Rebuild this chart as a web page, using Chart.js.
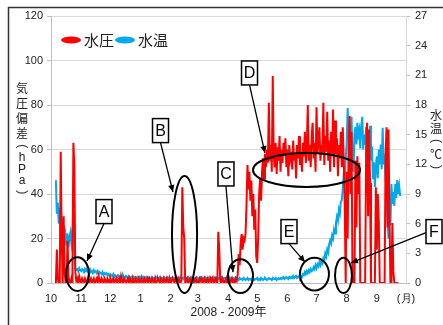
<!DOCTYPE html>
<html><head><meta charset="utf-8">
<script src="https://cdn.jsdelivr.net/npm/chart.js@4/dist/chart.umd.min.js"></script>
<style>html,body{margin:0;padding:0;background:#fff;overflow:hidden}</style>
</head><body>
<canvas id="c" width="443" height="325" style="display:block;width:443px;height:325px"></canvas>
<script>
// ---- x axis: months (day offsets from 1 Oct 2008) ----
const monthLabels = ['10','11','12','1','2','3','4','5','6','7','8','9','(月)'];
const monthStartDay = [0,31,61,92,123,151,182,212,243,273,304,335,365];

// ---- 水圧 (hPa), daily values per month ----
const pressureOct = [null,null,null,null,null,0,15,2,0,0,59,20,0,30,5,0,0,19,3,0,0,2,0,63,53,5,1,2,0,3,1];
const pressureNov = [0,2,1,0,2,1,0,2,0,1,2,0,1,2,0,1,2,0,3,1,0,2,1,0,2,1,0,2,1,0];
const pressureDec = [2,0,1,2,0,1,2,0,1,2,0,3,1,0,2,1,0,1,2,0,2,1,0,2,0,1,2,0,1,2,0];
const pressureJan = [1,2,0,1,2,0,1,2,0,2,1,0,2,1,0,2,0,1,2,1,0,2,1,0,2,1,0,2,1,0,2];
const pressureFeb = [0,1,2,1,0,2,1,0,2,1,0,1,43,25,20,0,1,2,0,1,2,0,1,2,0,1,2,0];
const pressureMar = [1,0,2,1,2,0,1,2,0,1,2,0,1,2,0,2,1,0,2,1,0,23,15,1,0,2,1,0,1,2,0];
const pressureApr = [1,2,0,1,2,0,1,0,2,1,4,13,8,18,22,15,20,19,22,35,53,42,50,37,46,30,40,24,33,12];
const pressureMay = [9,20,40,47,37,50,56,47,58,52,60,54,81,55,62,50,93,57,52,63,49,61,55,66,50,60,54,63,57,65,52];
const pressureJun = [60,48,62,56,59,51,64,55,58,47,62,56,66,53,59,50,63,57,68,54,61,80,55,62,52,66,72,56,63,50];
const pressureJul = [79,58,64,70,55,62,58,81,53,66,59,77,55,64,50,68,57,78,52,73,58,65,48,62,56,68,52,70,55,35,0];
const pressureAug = [50,20,62,75,40,68,0,0,0,55,25,57,40,54,0,0,0,0,0,0,60,72,30,69,45,0,0,0,0,0,43];
const pressureSep = [15,40,28,0,0,0,0,0,0,58,70,25,69,30,0,0,27,5,0,0,0,0,0];

// ---- 水温 (°C), daily values per month ----
const tempOct = [null,null,null,null,null,10.4,7.0,8.1,6.0,7.6,5.2,6.4,4.5,5.8,3.8,4.9,4.2,5.0,3.6,4.6,5.1,4.0,4.8,7.9,3.5,1.4,1.3,1.4,1.2,1.5,1.3];
const tempNov = [1.2,1.4,1.3,1.1,1.4,1.2,1.3,1.1,1.2,1.4,1.1,1.2,1.0,1.3,1.1,1.2,1.0,1.2,0.9,1.1,1.0,0.9,1.1,0.8,1.0,0.9,1.0,0.8,0.9,0.7];
const tempDec = [0.9,0.8,0.7,0.9,0.6,0.8,0.7,0.6,0.8,0.7,0.5,0.7,0.6,0.8,0.6,0.5,0.7,0.6,0.5,0.7,0.6,0.5,0.6,0.4,0.6,0.5,0.6,0.5,0.6,0.4,0.6];
const tempJan = [0.5,0.7,0.5,0.6,0.4,0.5,0.6,0.4,0.5,0.6,0.5,0.4,0.6,0.5,0.5,0.4,0.6,0.5,0.4,0.5,0.6,0.4,0.5,0.4,0.6,0.5,0.4,0.5,0.6,0.4,0.5];
const tempFeb = [0.5,0.4,0.6,0.5,0.4,0.5,0.6,0.4,0.5,0.4,0.6,0.5,0.5,0.4,0.6,0.5,0.4,0.5,0.6,0.4,0.5,0.5,0.6,0.4,0.5,0.4,0.5,0.6];
const tempMar = [0.5,0.4,0.5,0.6,0.4,0.5,0.5,0.6,0.4,0.5,0.5,0.4,0.6,0.5,0.4,0.5,0.6,0.4,0.5,0.5,0.6,0.4,0.5,0.4,0.5,0.6,0.4,0.5,0.5,0.4,0.6];
const tempApr = [0.5,0.4,0.5,0.3,0.5,0.4,0.5,0.3,0.4,0.5,0.4,0.3,0.5,0.4,0.4,0.3,0.5,0.4,0.3,0.4,0.5,0.3,0.4,0.4,0.3,0.5,0.4,0.3,0.4,0.4];
const tempMay = [0.5,0.3,0.4,0.3,0.5,0.4,0.3,0.4,0.5,0.4,0.3,0.4,0.5,0.4,0.4,0.3,0.5,0.4,0.4,0.5,0.3,0.4,0.5,0.4,0.5,0.4,0.5,0.6,0.4,0.5,0.6];
const tempJun = [0.5,0.4,0.6,0.5,0.6,0.5,0.7,0.5,0.6,0.7,0.5,0.6,0.7,0.5,0.7,0.6,0.9,0.8,1.1,0.9,1.2,1.0,1.3,1.1,1.4,1.2,1.3,1.6,1.4,1.8];
const tempJul = [1.5,1.9,1.7,2.1,1.8,2.2,2.0,2.5,2.3,3.0,2.7,3.4,3.1,3.9,4.3,4.0,4.8,4.5,5.4,5.0,6.1,6.7,6.3,7.4,7.0,8.2,8.4,9.5,11.0,10.5,12.7];
const tempAug = [14.0,17.7,14.5,16.0,15.2,16.8,12.0,11.2,15.0,15.8,14.0,16.2,15.0,15.5,13.6,15.8,16.8,13.5,15.0,14.0,15.8,12.5,15.4,13.0,15.9,12.4,13.8,10.5,12.2,9.7,11.8];
const tempSep = [12.8,10.6,13.5,12.0,14.0,11.5,15.7,12.0,13.0,10.5,9.8,6.5,4.5,8.5,5.8,10.0,8.0,9.2,7.8,10.0,8.6,10.4,9.0,9.8,8.8];

const seriesNames = ['水圧','水温'];
const seriesColors = ['#ff0000','#00a8ec'];

// ---- callouts (positions in data units: day, hPa) ----
const callouts = [
  {t:'A', e:[27.2,4.0,11.8,7.6],  b:[54.5,32.1],  tip:[37.0,9.9],   side:'bottom'},
  {t:'B', e:[137.3,21.8,12.9,26.3], b:[112.6,68.5], tip:[125.4,40.9], side:'bottom'},
  {t:'C', e:[194.8,3.1,12.9,7.6], b:[179.9,49.0], tip:[187.1,4.9],  side:'bottom'},
  {t:'D', e:[262.7,50.8,55.0,7.6], b:[204.1,94.4], tip:[220.0,58.4], side:'bottom'},
  {t:'E', e:[270.9,4.0,14.9,7.4], b:[244.7,23.1], tip:[261.2,9.4],  side:'bottom'},
  {t:'F', e:[300.7,3.4,8.7,7.9],  b:[393.8,23.1], tip:[308.4,9.0],  side:'left'}
];

function toPoints(months){
  const pts=[];
  months.forEach((arr,m)=>arr.forEach((v,i)=>pts.push({x:monthStartDay[m]+i,y:v})));
  return pts;
}
const pressurePts = toPoints([pressureOct,pressureNov,pressureDec,pressureJan,pressureFeb,pressureMar,pressureApr,pressureMay,pressureJun,pressureJul,pressureAug,pressureSep]);
const tempPts = toPoints([tempOct,tempNov,tempDec,tempJan,tempFeb,tempMar,tempApr,tempMay,tempJun,tempJul,tempAug,tempSep]);

const NARROW = '"Liberation Sans Narrow","Arial Narrow","Liberation Sans",Arial,sans-serif';
const CJK = '"Noto Sans CJK JP","Noto Sans CJK SC",sans-serif';
const LATIN = '"Liberation Sans",Arial,sans-serif';

function drawStackedChar(c, ch, x, y){
  if(ch==='︵' || ch==='︶'){
    c.save(); c.translate(x,y); c.rotate(Math.PI/2);
    c.font='12px '+LATIN; c.fillText(ch==='︵'?'(':')',0,0);
    c.restore();
  } else {
    c.font = /[\u3000-\u9fff\u2100-\u214f]/.test(ch) ? '12px '+CJK : '12px '+LATIN;
    c.fillText(ch,x,y);
  }
}

const decor = {
  id:'decor',
  beforeDraw(chart){
    const c=chart.ctx; c.save(); c.fillStyle='#fff'; c.fillRect(0,0,chart.width,chart.height); c.restore();
  },
  afterDraw(chart){
    const c=chart.ctx, a=chart.chartArea, x=chart.scales.x, y=chart.scales.y;
    c.save();
    // frame
    c.strokeStyle='#333'; c.lineWidth=1.5;
    c.strokeRect(8.5,7.5,700,700);
    // left axis title (stacked)
    c.fillStyle='#222'; c.textAlign='center'; c.textBaseline='middle';
    const lt=['気','圧','偏','差','︵','h','P','a','︶'];
    const isCJK=ch=>/[\u3040-\u9fff]/.test(ch);
    let yy=a.top+72, prevH=null;
    lt.forEach(ch=>{
      const h = isCJK(ch)?15:11.5;
      if(prevH!==null) yy += (prevH+h)/2;
      drawStackedChar(c,ch,22,yy);
      prevH=h;
    });
    // right axis title
    const rt=['水','温','︵','℃','︶'];
    rt.forEach((ch,i)=>drawStackedChar(c,ch,436,a.top+99+i*13));
    // x axis title
    c.font='12px '+LATIN+','+CJK;
    c.fillText('2008 - 2009年',(a.left+a.right)/2,313);
    // legend
    let lx=a.left+10; const ly=a.top+24;
    c.textAlign='left';
    chart.data.datasets.forEach((ds)=>{
      c.fillStyle=ds.borderColor;
      c.beginPath(); c.ellipse(lx+10,ly,10,3.5,0,0,Math.PI*2); c.fill();
      c.fillStyle='#222'; c.font='15px '+CJK;
      c.fillText(ds.label,lx+23,ly);
      lx += 23 + c.measureText(ds.label).width + 1;
    });
    // callouts
    callouts.forEach(o=>{
      const ex=x.getPixelForValue(o.e[0]), ey=y.getPixelForValue(o.e[1]);
      const rx=x.getPixelForValue(o.e[0]+o.e[2])-ex, ry=ey-y.getPixelForValue(o.e[1]+o.e[3]);
      c.strokeStyle='#000'; c.lineWidth=2;
      c.beginPath(); c.ellipse(ex,ey,rx,ry,0,0,Math.PI*2); c.stroke();
      const bx=x.getPixelForValue(o.b[0]), by=y.getPixelForValue(o.b[1]);
      const bw=16, bh=24;
      const sx = o.side==='left'? bx-bw/2 : bx, sy = o.side==='left'? by+1 : by+bh/2;
      const tx=x.getPixelForValue(o.tip[0]), ty=y.getPixelForValue(o.tip[1]);
      c.lineWidth=1.3; c.beginPath(); c.moveTo(sx,sy); c.lineTo(tx,ty); c.stroke();
      const ang=Math.atan2(ty-sy,tx-sx), L=7, W=3.2;
      c.fillStyle='#000'; c.beginPath();
      c.moveTo(tx,ty);
      c.lineTo(tx-L*Math.cos(ang)+W*Math.sin(ang), ty-L*Math.sin(ang)-W*Math.cos(ang));
      c.lineTo(tx-L*Math.cos(ang)-W*Math.sin(ang), ty-L*Math.sin(ang)+W*Math.cos(ang));
      c.closePath(); c.fill();
      c.fillStyle='#fff'; c.fillRect(bx-bw/2,by-bh/2,bw,bh);
      c.lineWidth=1.5; c.strokeRect(bx-bw/2,by-bh/2,bw,bh);
      c.fillStyle='#000'; c.textAlign='center'; c.textBaseline='middle';
      c.font='16px '+NARROW; c.fillText(o.t,bx,by+1);
    });
    c.restore();
  }
};

new Chart(document.getElementById('c'), {
  type:'line',
  data:{datasets:[
    {label:seriesNames[0], data:pressurePts, yAxisID:'y', borderColor:seriesColors[0], backgroundColor:seriesColors[0], borderWidth:2, pointRadius:0, tension:0},
    {label:seriesNames[1], data:tempPts, yAxisID:'y1', borderColor:seriesColors[1], backgroundColor:seriesColors[1], borderWidth:2, pointRadius:0, tension:0}
  ]},
  options:{
    responsive:false, animation:false, devicePixelRatio:1,
    layout:{padding:{top:16,left:0,right:0,bottom:0}},
    plugins:{legend:{display:false}, tooltip:{enabled:false}},
    scales:{
      x:{type:'linear', min:0, max:365,
        afterBuildTicks:s=>{ s.ticks = monthStartDay.map(v=>({value:v})); },
        ticks:{autoSkip:false, maxRotation:0, padding:9, color:'#222', font:{family:NARROW,size:11}, callback:(v,i)=>monthLabels[i]},
        grid:{display:false, drawTicks:false},
        border:{display:true, color:'#bfbfbf'},
        afterFit:s=>{ s.height=42; }},
      y:{position:'left', min:0, max:120,
        ticks:{stepSize:20, padding:4, color:'#222', font:{family:NARROW,size:11}},
        grid:{color:'#d9d9d9', tickLength:4, tickColor:'#bfbfbf'},
        border:{color:'#bfbfbf'},
        afterFit:s=>{ s.width=51; }},
      y1:{position:'right', min:0, max:27,
        ticks:{stepSize:3, padding:5, color:'#222', font:{family:NARROW,size:11}},
        grid:{drawOnChartArea:false, tickLength:4, tickColor:'#bfbfbf'},
        border:{color:'#d9d9d9'},
        afterFit:s=>{ s.width=37; }}
    }
  },
  plugins:[decor]
});
</script>
</body></html>
